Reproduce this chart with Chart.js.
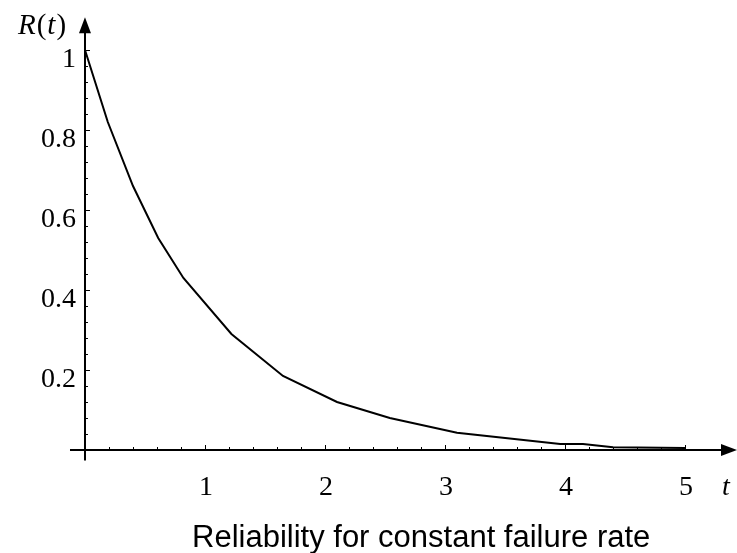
<!DOCTYPE html>
<html>
<head>
<meta charset="utf-8">
<script src="https://cdn.jsdelivr.net/npm/chart.js@4/dist/chart.umd.min.js"></script>
<style>
  html, body { margin: 0; padding: 0; background: #fff; }
  #wrap { width: 737px; height: 553px; position: relative; }
</style>
</head>
<body>
<div id="wrap"><canvas id="grafico"></canvas></div>
<script>
const tempos = [0, 0.19, 0.4, 0.61, 0.82, 1.22, 1.65, 2.1, 2.54, 3.1, 3.96, 4.15, 4.4, 5.0];
const confiabilidade = [1.0, 0.82, 0.66, 0.53, 0.43, 0.29, 0.185, 0.12, 0.08, 0.043, 0.015, 0.015, 0.007, 0.005];

const ticksX = [1, 2, 3, 4, 5];
const ticksY = [0.2, 0.4, 0.6, 0.8, 1];
const rotulosY = ['0.2', '0.4', '0.6', '0.8', '1'];
const titulo = 'Reliability for constant failure rate';

const serif = '"Liberation Serif", "DejaVu Serif", serif';

// desenha os eixos com setas, marcas e rótulos
const eixosPlugin = {
    id: 'eixos',
    afterDraw(chart) {
        const ctx = chart.ctx;
        const sx = chart.scales.x, sy = chart.scales.y;
        const x0 = sx.getPixelForValue(0), y0 = sy.getPixelForValue(0);
        ctx.save();
        ctx.strokeStyle = '#000';
        ctx.fillStyle = '#000';
        ctx.lineWidth = 2;

        // eixo x
        const xFim = sx.getPixelForValue(sx.max);
        ctx.beginPath();
        ctx.moveTo(sx.getPixelForValue(-0.125), y0);
        ctx.lineTo(xFim - 10, y0);
        ctx.stroke();
        ctx.beginPath();
        ctx.moveTo(xFim, y0);
        ctx.lineTo(xFim - 16, y0 - 6);
        ctx.lineTo(xFim - 16, y0 + 6);
        ctx.closePath();
        ctx.fill();

        // eixo y
        const yTopo = sy.getPixelForValue(1.082);
        ctx.beginPath();
        ctx.moveTo(x0, sy.getPixelForValue(-0.026));
        ctx.lineTo(x0, yTopo + 10);
        ctx.stroke();
        ctx.beginPath();
        ctx.moveTo(x0, yTopo);
        ctx.lineTo(x0 - 6, yTopo + 16);
        ctx.lineTo(x0 + 6, yTopo + 16);
        ctx.closePath();
        ctx.fill();

        // marcas menores
        ctx.lineWidth = 1;
        ctx.beginPath();
        for (let i = 1; i <= 25; i++) {
            const px = Math.round(sx.getPixelForValue(i * 0.2)) + 0.5;
            const maior = i % 5 === 0;
            ctx.moveTo(px, y0);
            ctx.lineTo(px, y0 - (maior ? 5 : 3));
        }
        for (let i = 1; i <= 25; i++) {
            const py = Math.round(sy.getPixelForValue(i * 0.04)) + 0.5;
            const maior = i % 5 === 0;
            ctx.moveTo(x0, py);
            ctx.lineTo(x0 + (maior ? 5 : 3), py);
        }
        ctx.stroke();

        // rótulos
        ctx.font = '28px ' + serif;
        ctx.textBaseline = 'alphabetic';
        ctx.textAlign = 'center';
        ticksX.forEach(v => ctx.fillText(String(v), sx.getPixelForValue(v) + 1, y0 + 45));
        ctx.textAlign = 'right';
        ticksY.forEach((v, i) => ctx.fillText(rotulosY[i], 76, sy.getPixelForValue(v) + 17));

        // nomes dos eixos
        ctx.textAlign = 'left';
        ctx.font = 'italic 28px ' + serif;
        ctx.fillText('t', 722, y0 + 45);
        let px = 18;
        const partes = [['R', true], ['(', false], ['t', true], [')', false]];
        partes.forEach(([s, it]) => {
            ctx.font = (it ? 'italic ' : '') + '29px ' + serif;
            ctx.fillText(s, px, 34);
            px += ctx.measureText(s).width + 1;
        });

        // título
        ctx.font = '31px "Liberation Sans", Arial, sans-serif';
        ctx.textAlign = 'left';
        ctx.fillText(titulo, 192, 547);
        ctx.restore();
    }
};

new Chart(document.getElementById('grafico'), {
    type: 'line',
    data: {
        datasets: [{
            data: tempos.map((t, i) => ({ x: t, y: confiabilidade[i] })),
            borderColor: '#000',
            borderWidth: 2,
            pointRadius: 0,
            tension: 0,
            fill: false
        }]
    },
    options: {
        responsive: true,
        maintainAspectRatio: false,
        animation: false,
        layout: { padding: { left: 0, right: 0, top: 14, bottom: 87 } },
        plugins: { legend: { display: false }, tooltip: { enabled: false } },
        scales: {
            x: { type: 'linear', min: -0.7083, max: 5.4333, display: false },
            y: { type: 'linear', min: -0.04, max: 1.09, display: false }
        }
    },
    plugins: [eixosPlugin]
});
</script>
</body>
</html>
